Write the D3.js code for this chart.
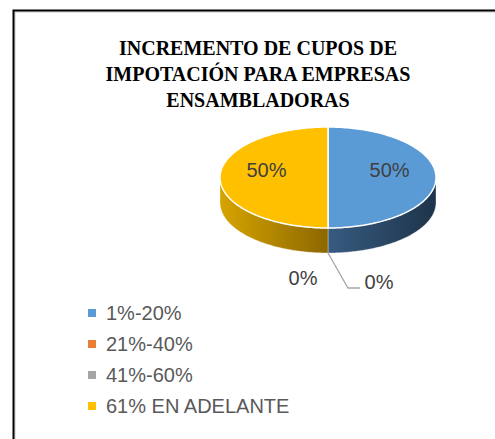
<!DOCTYPE html>
<html>
<head>
<meta charset="utf-8">
<script src="https://cdn.jsdelivr.net/npm/d3@7"></script>
<style>
  html, body { margin: 0; padding: 0; background: #fff; }
  svg { display: block; }
</style>
</head>
<body>
<div id="chart"></div>
<script>
// chart data
const titleLines = ['INCREMENTO DE CUPOS DE', 'IMPOTACIÓN PARA EMPRESAS', 'ENSAMBLADORAS'];
const categories = ['1%-20%', '21%-40%', '41%-60%', '61% EN ADELANTE'];
const values = [50, 0, 0, 50];
const sliceColors = ['#5b9bd5', '#ed7d31', '#a5a5a5', '#ffc000'];
const sideColors = [['#375b80', '#1e344a'], ['#a0501c', '#6e3510'], ['#6b6b6b', '#4a4a4a'], ['#d6a400', '#8c6700']];

const width = 495, height = 439;
const cx = 328, cy = 177.5, rx = 108, ry = 50.5, depth = 25;

const svg = d3.select('#chart').append('svg')
    .attr('width', width)
    .attr('height', height);

// frame of the chart area (cropped at right / bottom)
svg.append('rect')
    .attr('x', 15).attr('y', 12).attr('width', 600).attr('height', 600)
    .attr('fill', 'none').attr('stroke', '#c8c8c8').attr('stroke-width', 1);
svg.append('rect')
    .attr('x', 13.5).attr('y', 10.5).attr('width', 600).attr('height', 600)
    .attr('fill', 'none').attr('stroke', '#000').attr('stroke-width', 2);

// title
svg.append('text')
    .attr('x', 258).attr('y', 55)
    .attr('text-anchor', 'middle')
    .style('font-family', '"Liberation Serif", "Times New Roman", serif')
    .style('font-weight', 'bold')
    .style('font-size', '20px')
    .style('fill', '#000')
    .selectAll('tspan')
    .data(titleLines)
    .enter().append('tspan')
    .attr('x', 258)
    .attr('dy', (d, i) => i === 0 ? 0 : 26)
    .text(d => d);

// pie layout, angle 0 at 12 o'clock, clockwise
const pie = d3.pie().sort(null).value(d => d)(values);

function pt(a, dy) {
  return [cx + rx * Math.sin(a), cy - ry * Math.cos(a) + (dy || 0)];
}
function arcPoints(a0, a1, dy) {
  const n = Math.max(2, Math.ceil(Math.abs(a1 - a0) / 0.02));
  const pts = [];
  for (let i = 0; i <= n; i++)
    pts.push(pt(a0 + (a1 - a0) * i / n, dy));
  return pts;
}
const line = d3.line();

const defs = svg.append('defs');
const g = svg.append('g');

// side walls (front half only: angles between PI/2 and 3PI/2)
pie.forEach((p, i) => {
  const a0 = Math.max(p.startAngle, Math.PI / 2);
  const a1 = Math.min(p.endAngle, 3 * Math.PI / 2);
  if (a1 - a0 <= 0.0001) return;
  const top = arcPoints(a0, a1, 0);
  const bottom = arcPoints(a1, a0, depth);
  const xs = top.map(q => q[0]);
  const x0 = d3.min(xs), x1 = d3.max(xs);
  const gradId = 'side' + i;
  // lighter part is always next to the centre line, darker toward the rim
  const nearCentreLeft = Math.abs(x0 - cx) < Math.abs(x1 - cx);
  const grad = defs.append('linearGradient')
      .attr('id', gradId)
      .attr('gradientUnits', 'userSpaceOnUse')
      .attr('x1', x0).attr('x2', x1).attr('y1', 0).attr('y2', 0);
  const light = sideColors[i][0], dark = sideColors[i][1];
  grad.append('stop').attr('offset', '0%').attr('stop-color', nearCentreLeft ? light : light);
  grad.append('stop').attr('offset', '100%').attr('stop-color', nearCentreLeft ? dark : dark);
  g.append('path')
      .attr('d', line(top.concat(bottom)) + 'Z')
      .attr('fill', 'url(#' + gradId + ')')
      .attr('stroke', 'rgba(255,255,255,0.45)')
      .attr('stroke-width', 0.8);
});

// top faces
pie.forEach((p, i) => {
  if (p.endAngle - p.startAngle <= 0) return;
  const pts = [[cx, cy]].concat(arcPoints(p.startAngle, p.endAngle, 0));
  g.append('path')
      .attr('d', line(pts) + 'Z')
      .attr('fill', sliceColors[i])
      .attr('stroke', '#fff')
      .attr('stroke-width', 1.5)
      .attr('stroke-linejoin', 'round');
});

// data labels
const labelFont = '"Liberation Sans", Arial, sans-serif';
const pct = d3.format('.0%');
const total = d3.sum(values);
let zeroCount = 0;
pie.forEach((p, i) => {
  const txt = pct(values[i] / total);
  if (values[i] > 0) {
    const mid = (p.startAngle + p.endAngle) / 2;
    const q = [cx + 0.57 * rx * Math.sin(mid), cy - 0.57 * ry * Math.cos(mid) - 8];
    svg.append('text')
        .attr('x', q[0]).attr('y', q[1]).attr('dy', '0.35em')
        .attr('text-anchor', 'middle')
        .style('font-family', labelFont).style('font-size', '20px')
        .style('fill', '#404040')
        .text(txt);
  } else {
    // zero slices sit at the front edge of the pie; labels pushed outside
    const anchor = pt(p.startAngle, depth);
    if (zeroCount === 0) {
      svg.append('path')
          .attr('d', line([anchor, [anchor[0] + 20, anchor[1] + 35], [anchor[0] + 32, anchor[1] + 35]]))
          .attr('fill', 'none').attr('stroke', '#a6a6a6').attr('stroke-width', 1.3);
      svg.append('text')
          .attr('x', anchor[0] + 51).attr('y', anchor[1] + 29).attr('dy', '0.35em')
          .attr('text-anchor', 'middle')
          .style('font-family', labelFont).style('font-size', '20px')
          .style('fill', '#404040')
          .text(txt);
    } else {
      svg.append('text')
          .attr('x', anchor[0] - 25).attr('y', anchor[1] + 25).attr('dy', '0.35em')
          .attr('text-anchor', 'middle')
          .style('font-family', labelFont).style('font-size', '20px')
          .style('fill', '#404040')
          .text(txt);
    }
    zeroCount++;
  }
});

// legend
const legend = svg.append('g').attr('transform', 'translate(88,313)');
const rows = legend.selectAll('g')
    .data(categories)
    .enter().append('g')
    .attr('transform', (d, i) => 'translate(0,' + (i * 31) + ')');
rows.append('rect')
    .attr('x', 0).attr('y', -4).attr('width', 8).attr('height', 8)
    .attr('fill', (d, i) => sliceColors[i]);
rows.append('text')
    .attr('x', 18).attr('y', 0).attr('dy', '0.35em')
    .style('font-family', labelFont).style('font-size', '20px')
    .style('fill', '#595959')
    .text(d => d);
</script>
</body>
</html>
